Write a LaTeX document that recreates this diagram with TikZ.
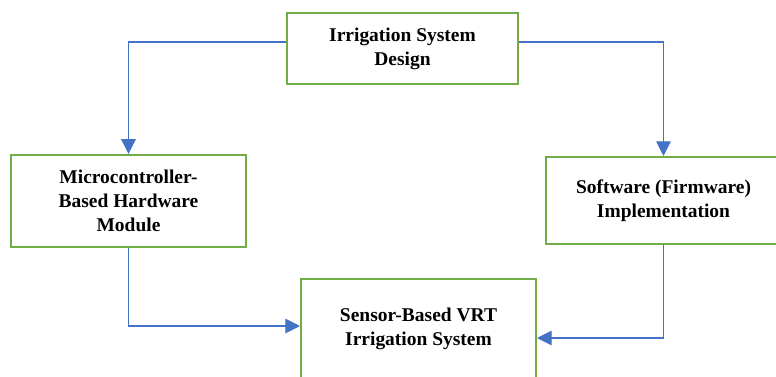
\documentclass[tikz,border=0pt]{standalone}
\usepackage{fontspec}
\setmainfont{Liberation Serif}
\usetikzlibrary{arrows.meta}
\definecolor{boxgreen}{RGB}{112,173,71}
\definecolor{flowblue}{RGB}{68,114,196}
\begin{document}
\begin{tikzpicture}[x=0.75pt,y=-0.75pt,
  box/.style={draw=boxgreen,line width=1.8pt,fill=white,align=center,
    font=\bfseries\fontsize{14.6}{18}\selectfont,inner sep=0pt},
  flow/.style={draw=flowblue,line width=0.8pt,-{Triangle[length=11pt,width=11pt]}}]
\clip (0,0) rectangle (776,376);
\fill[white] (0,0) rectangle (776,376);

 \node[box,minimum width=173pt,minimum height=53pt] at (402.5,48.5) (design) {Irrigation System\\Design};
 \node[box,minimum width=176pt,minimum height=69pt] at (128.5,201) (hardware) {Microcontroller-\\Based Hardware\\Module};
 \node[box,minimum width=176pt,minimum height=65pt] at (663.5,200.5) (software) {Software (Firmware)\\Implementation};
 \node[box,minimum width=176pt,minimum height=75pt] at (418.5,329) (vrt) {Sensor-Based VRT\\Irrigation System};

\draw[flow]([yshift=-22.5pt]design.north west) -| (hardware.north);
\draw[flow]([yshift=-22.5pt]design.north east) -| (software.north);
\draw[flow](hardware.south) |- ([yshift=2.25pt]vrt.west);
\draw[flow](software.south) |- ([yshift=-6.75pt]vrt.east);
\end{tikzpicture}
\end{document}
